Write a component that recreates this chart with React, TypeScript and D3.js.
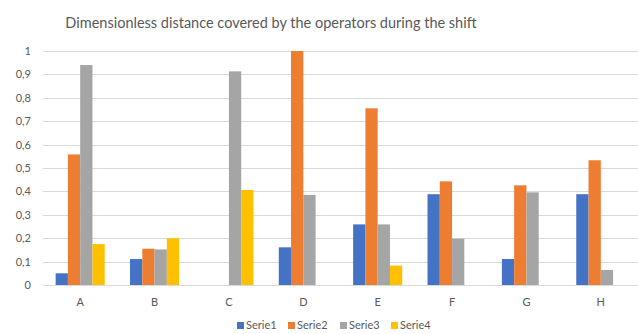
import React, { useEffect, useRef } from "react";
import * as d3 from "d3";

const categories = ["A", "B", "C", "D", "E", "F", "G", "H"];
const seriesNames = ["Serie1", "Serie2", "Serie3", "Serie4"];
const serie1 = [0.05, 0.111, 0, 0.161, 0.259, 0.388, 0.111, 0.388];
const serie2 = [0.558, 0.155, 0, 1.0, 0.755, 0.443, 0.426, 0.533];
const serie3 = [0.94, 0.152, 0.913, 0.385, 0.259, 0.198, 0.396, 0.064];
const serie4 = [0.175, 0.2, 0.406, 0, 0.083, 0, 0, 0];
const yTicks = [0, 0.1, 0.2, 0.3, 0.4, 0.5, 0.6, 0.7, 0.8, 0.9, 1];
const colors = ["#4472C4", "#ED7D31", "#A5A5A5", "#FFC000"];

export default function App() {
  const ref = useRef<SVGSVGElement>(null);

  useEffect(() => {
    const W = 638,
      H = 334;
    const margin = { top: 51, right: 0, bottom: 49, left: 43 };
    const w = W - margin.left - margin.right,
      h = H - margin.top - margin.bottom;
    const font = "Lato, 'Open Sans', sans-serif";
    const allSeries = [serie1, serie2, serie3, serie4];

    const root = d3.select(ref.current);
    root.selectAll("*").remove();
    root.attr("width", W).attr("height", H);

    root
      .append("text")
      .attr("x", 271)
      .attr("y", 28)
      .attr("text-anchor", "middle")
      .attr("fill", "#595959")
      .style("font-family", font)
      .style("font-size", "14.5px")
      .text("Dimensionless distance covered by the operators during the shift");

    const svg = root
      .append("g")
      .attr("transform", `translate(${margin.left},${margin.top})`);

    const x = d3.scaleBand().domain(categories).range([0, w]).paddingInner(0.34).paddingOuter(0.17);
    const xs = d3.scaleBand().domain(seriesNames).range([0, x.bandwidth()]);
    const y = d3.scaleLinear().domain([0, 1]).range([h, 0]);

    svg
      .selectAll("line.grid")
      .data(yTicks)
      .join("line")
      .attr("class", "grid")
      .attr("x1", 0)
      .attr("x2", w)
      .attr("y1", (d) => Math.round(y(d)) + 0.5)
      .attr("y2", (d) => Math.round(y(d)) + 0.5)
      .attr("stroke", "#D9D9D9")
      .attr("stroke-width", 1);

    svg
      .selectAll("text.ytick")
      .data(yTicks)
      .join("text")
      .attr("class", "ytick")
      .attr("x", -12)
      .attr("y", (d) => y(d) + 4)
      .attr("text-anchor", "end")
      .attr("fill", "#595959")
      .style("font-family", font)
      .style("font-size", "11px")
      .text((d) => d3.format(".1~f")(d).replace(".", ","));

    categories.forEach((c, i) => {
      const g = svg.append("g").attr("transform", `translate(${x(c)},0)`);
      allSeries.forEach((s, j) => {
        if (s[i] <= 0) return;
        g.append("rect")
          .attr("x", xs(seriesNames[j]) as number)
          .attr("y", y(s[i]))
          .attr("width", xs.bandwidth())
          .attr("height", h - y(s[i]))
          .attr("fill", colors[j]);
      });
    });

    svg
      .selectAll("text.xtick")
      .data(categories)
      .join("text")
      .attr("class", "xtick")
      .attr("x", (d) => (x(d) as number) + x.bandwidth() / 2)
      .attr("y", h + 21)
      .attr("text-anchor", "middle")
      .attr("fill", "#595959")
      .style("font-family", font)
      .style("font-size", "11px")
      .text((d) => d);

    const legend = root.append("g").attr("transform", "translate(237,322)");
    const offsets = [0, 51, 103, 154];
    seriesNames.forEach((n, j) => {
      const lg = legend.append("g").attr("transform", `translate(${offsets[j]},0)`);
      lg.append("rect").attr("width", 7).attr("height", 7).attr("fill", colors[j]);
      lg.append("text")
        .attr("x", 9)
        .attr("y", 7)
        .attr("fill", "#595959")
        .style("font-family", font)
        .style("font-size", "11px")
        .text(n);
    });
  }, []);

  return <svg ref={ref} style={{ position: "absolute", left: 0, top: 0 }}></svg>;
}
